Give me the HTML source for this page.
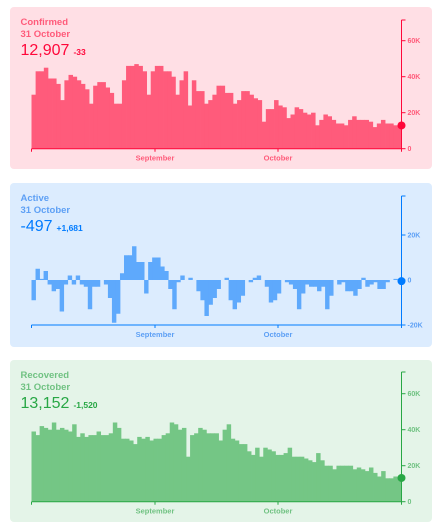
<!DOCTYPE html>
<html><head><meta charset="utf-8"><style>
html,body{margin:0;padding:0;background:#fff;width:440px;height:532px;overflow:hidden;font-family:"Liberation Sans",sans-serif}
svg{display:block}
</style></head><body>
<svg id="c" width="440" height="532" xmlns="http://www.w3.org/2000/svg"></svg>
<script>
const confirmedValues=[30,43,43,45,39,39,36,27,38,41,40,38,36,33,25,35,37,37,34,31,25,25,38,46,46,47,46,43,30,43,46,46,43,43,40,30,38,43,24,38,32,32,25,27,30,35,35,31,31,25,27,32,32,30,28,27,15,22,22,27,24,23,17,19,23,22,20,19,20,13,16,19,18,16,14,14,13,16,18,16,16,16,15,12,14,16,14,14,13,12.9];
const activeValues=[-9,5,0.5,4,-2,-5,-4,-14,-2,2,-2,2,-2,-3,-13,-3,-3,0,-2,-8,-19,-15,3,11,11,15,8,8,-6,8,10,10,6,4,-4,-13,-1,2,0,1,0,-5,-9,-16,-11,-8,-4,0,1,-9,-13,-10,-7,0,-1,1,2,0,-3,-10,-9,-6,0,-1,-2,-4,-13,-6,-2,-3,-3,-5,-3,-13,-7,0,-2,-1,-5,-5,-7,-4,1,-3,-2,-1,-4,-4,-1,0,0.5,-0.5];
const recoveredValues=[39,37,42,41,40,44,40,41,40,39,43,36,38,36,37,37,39,37,37,38,44,41,35,35,34,32,36,35,36,34,35,35,37,38,44,43,40,41,25,37,38,41,40,38,38,38,34,40,43,35,34,32,32,28,26,30,25,30,29,28,26,26,27,30,25,25,25,24,23,22,27,23,20,20,18,20,20,20,20,18,19,18,17,19,16,14,17,13,13,14,13.2];
const monthLabels=["September","October"];
const confirmedTicks=[0,20,40,60];
const activeTicks=[-20,0,20];
const recoveredTicks=[0,20,40,60];
const headers=[["Confirmed","31 October","12,907","-33"],["Active","31 October","-497","+1,681"],["Recovered","31 October","13,152","-1,520"]];

const NS="http://www.w3.org/2000/svg";
const svg=document.getElementById('c');
function mk(tag,attrs,parent,text){const e=document.createElementNS(NS,tag);for(const k in attrs)e.setAttribute(k,attrs[k]);if(text!==undefined)e.textContent=text;(parent||svg).appendChild(e);return e;}
const X0=31.5,X1=401.5;
const monthX=[155,278];

function panel(cfg){
  const g=mk('g',{});
  
  
  const bg=mk('rect',{x:10,y:cfg.top,width:422,height:cfg.h,rx:4,fill:cfg.bg},g);
  
  
  const hd=headers[cfg.idx];
  const t1=mk('text',{x:20.5,y:cfg.top+18,fill:cfg.light,'font-size':9.5,'font-weight':'bold'},g,hd[0]);
  
  
  const t2=mk('text',{x:20.5,y:cfg.top+30,fill:cfg.light,'font-size':9.5,'font-weight':'bold'},g,hd[1]);
  
  
  const t3=mk('text',{x:20.5,y:cfg.top+48,fill:cfg.dark,'font-size':16},g);
  
  
  mk('tspan',{},t3,hd[2]);
  mk('tspan',{'font-size':8.5,'font-weight':'bold',dx:4},t3,hd[3]);
  const vals=cfg.values;const n=vals.length;const band=(X1-X0)/n;
  const y=v=>cfg.zeroY-v*cfg.k;
  vals.forEach((v,i)=>{
    const x=X0+i*band;const a=y(v),b=y(0);
    const r=mk('rect',{x:x.toFixed(2),y:Math.min(a,b).toFixed(2),width:(band+0.4).toFixed(2),height:Math.abs(a-b).toFixed(2),fill:cfg.bar},g);
    
    
  });
  // x axis
  const ax=mk('line',{x1:X0,x2:X1,y1:cfg.xAxisY,y2:cfg.xAxisY,stroke:cfg.dark,'stroke-width':1},g);
  
  
  [X0,monthX[0],monthX[1],X1].forEach(tx=>{mk('line',{x1:tx,x2:tx,y1:cfg.xAxisY,y2:cfg.xAxisY+3,stroke:cfg.dark},g);});
  monthLabels.forEach((m,i)=>{
    const l=mk('text',{x:monthX[i],y:cfg.xAxisY+12,fill:cfg.light,'font-size':7.5,'font-weight':'bold','text-anchor':'middle'},g,m);
    
    
  });
  // y axis
  const yb=y(cfg.ticks[0]);
  const ya=mk('line',{x1:X1,x2:X1,y1:cfg.axisTop,y2:Math.max(yb,cfg.xAxisY),stroke:cfg.dark},g);
  
  
  mk('line',{x1:X1,x2:X1+4,y1:cfg.axisTop,y2:cfg.axisTop,stroke:cfg.dark},g);
  cfg.ticks.forEach(t=>{
    const ty=y(t);
    mk('line',{x1:X1,x2:X1+4,y1:ty,y2:ty,stroke:cfg.dark},g);
    const l=mk('text',{x:X1+6,y:ty+2.5,fill:cfg.light,'font-size':7,'font-weight':'bold'},g,t===0?'0':t+'K');
    
    
  });
  const dot=mk('circle',{cx:X1,cy:y(vals[n-1]),r:4,fill:cfg.dark},g);
  
  
}
panel({idx:0,name:'confirmed',top:7,h:162,bg:'#ffdfe5',bar:'#ff5b7b',dark:'#ff073a',light:'#ff5b7a',values:confirmedValues,zeroY:148.7,k:1.8,xAxisY:148.7,axisTop:20,ticks:confirmedTicks});
panel({idx:1,name:'active',top:183,h:164,bg:'#dcecfe',bar:'#5ea9fc',dark:'#007bff',light:'#5ea0f5',values:activeValues,zeroY:280,k:2.25,xAxisY:325,axisTop:196,ticks:activeTicks});
panel({idx:2,name:'recovered',top:360,h:162,bg:'#e4f4e8',bar:'#74c685',dark:'#28a745',light:'#70c282',values:recoveredValues,zeroY:501.7,k:1.8,xAxisY:501.7,axisTop:372,ticks:recoveredTicks});
</script>
</body></html>
